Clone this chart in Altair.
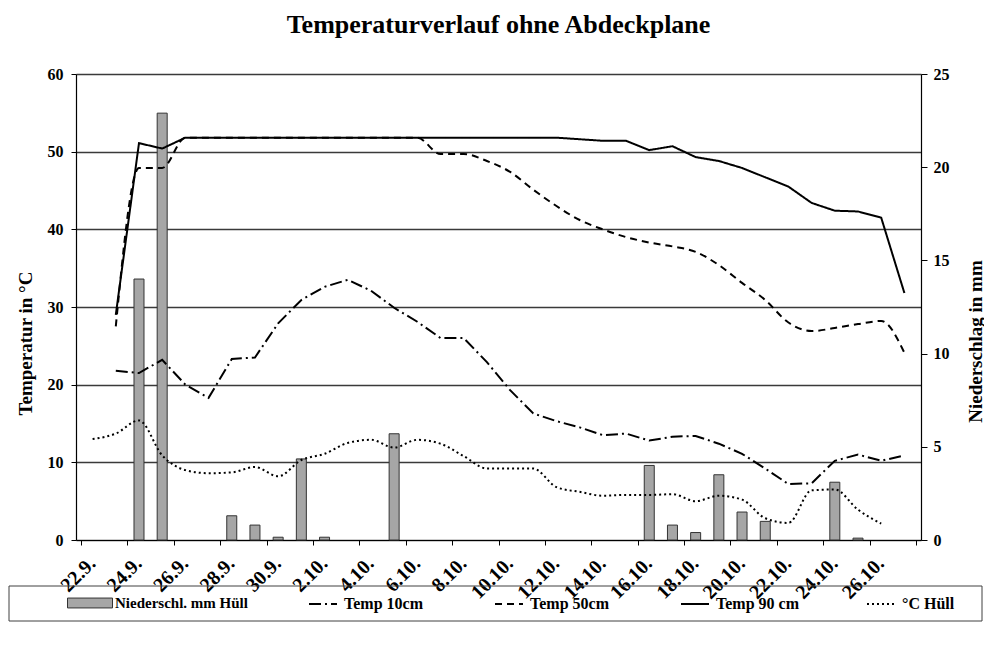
import altair as alt
import pandas as pd

# ---------------- data ----------------
dates = ["22.9.", "23.9.", "24.9.", "25.9.", "26.9.", "27.9.", "28.9.", "29.9.", "30.9.",
         "1.10.", "2.10.", "3.10.", "4.10.", "5.10.", "6.10.", "7.10.", "8.10.", "9.10.",
         "10.10.", "11.10.", "12.10.", "13.10.", "14.10.", "15.10.", "16.10.", "17.10.",
         "18.10.", "19.10.", "20.10.", "21.10.", "22.10.", "23.10.", "24.10.", "25.10.",
         "26.10.", "27.10."]

precip = [0, 0, 14.0, 22.9, 0, 0, 1.3, 0.8, 0.15, 4.35, 0.15, 0, 0, 5.7, 0, 0, 0, 0,
          0, 0, 0, 0, 0, 0, 4.0, 0.8, 0.4, 3.5, 1.5, 1.0, 0, 0, 3.1, 0.1, 0, 0]

temp10 = [None, 21.8, 21.5, 23.2, 20.0, 18.3, 23.3, 23.5, 27.9, 30.9, 32.6, 33.5, 32.1,
          29.9, 28.1, 26.0, 26.0, 22.9, 19.3, 16.3, 15.3, 14.5, 13.5, 13.7, 12.8, 13.3,
          13.4, 12.4, 11.1, 9.2, 7.2, 7.3, 10.2, 11.0, 10.2, 10.9]

temp50 = [None, 27.5, 47.9, 47.9, 51.8, 51.8, 51.8, 51.8, 51.8, 51.8, 51.8, 51.8, 51.8,
          51.8, 51.8, 49.7, 49.7, 48.8, 47.4, 45.1, 43.0, 41.2, 40.0, 39.0, 38.3, 37.8,
          37.1, 35.4, 33.1, 30.9, 28.0, 26.9, 27.3, 27.8, 28.2, 24.1]

temp90 = [None, 29.0, 51.1, 50.4, 51.8, 51.8, 51.8, 51.8, 51.8, 51.8, 51.8, 51.8, 51.8,
          51.8, 51.8, 51.8, 51.8, 51.8, 51.8, 51.8, 51.8, 51.6, 51.4, 51.4, 50.2, 50.7,
          49.3, 48.8, 47.9, 46.7, 45.5, 43.4, 42.4, 42.3, 41.5, 31.8]

huell = [13.0, 13.7, 15.4, 10.9, 9.0, 8.6, 8.7, 9.4, 8.2, 10.3, 11.1, 12.5, 12.9, 11.9,
         12.9, 12.4, 10.8, 9.2, 9.2, 9.2, 6.8, 6.2, 5.7, 5.8, 5.8, 5.9, 5.0, 5.7, 5.2,
         2.8, 2.2, 6.4, 6.5, 3.9, 2.1, None]

series_names = ["Temp 10cm", "Temp 50cm", "Temp 90 cm", "°C Hüll"]
series_values = [temp10, temp50, temp90, huell]
dash_styles = [[12, 4, 2, 4], [7, 5], [1, 0], [2, 3]]
interp = ["linear", "monotone", "linear", "monotone"]
bar_label = "Niederschl. mm Hüll"

temp_ticks = [0, 10, 20, 30, 40, 50, 60]
precip_ticks = [0, 5, 10, 15, 20, 25]

# ---------------- tables ----------------
rows = []
for name, vals in zip(series_names, series_values):
    for i, v in enumerate(vals):
        if v is not None:
            rows.append({"x": i + 0.5, "date": dates[i], "series": name, "value": v})
lines_df = pd.DataFrame(rows)

bars_df = pd.DataFrame({"x": [i + 0.5 for i in range(len(dates))], "date": dates,
                        "precip": precip, "label": bar_label})
bars_df = bars_df[bars_df["precip"] > 0]

FONT = "Liberation Serif"
n = len(dates)
tick_vals = list(range(0, n + 1, 2))
label_list = dates[::2] + [""]
label_expr = "[" + ",".join("'" + s + "'" for s in label_list) + "][round(datum.value/2)]"

x_enc = alt.X("x:Q", scale=alt.Scale(domain=[0, n], nice=False, zero=False),
              axis=alt.Axis(values=tick_vals, labelExpr=label_expr, labelAngle=315,
                            labelAlign="right", labelBaseline="middle", labelOffset=11,
                            labelPadding=15, tickSize=5, tickColor="black",
                            domainColor="black", domainWidth=1.2, grid=False, title=None,
                            labelFont=FONT, labelFontSize=20, labelFontWeight="bold",
                            labelColor="black", labelOverlap=False, labelBound=False))

bars = alt.Chart(bars_df).mark_bar(size=10, stroke="#333333", strokeWidth=1).encode(
    x=x_enc,
    y=alt.Y("precip:Q", scale=alt.Scale(domain=[0, 25], nice=False),
            axis=alt.Axis(orient="right", values=precip_ticks, grid=False, tickSize=6,
                          tickColor="black", domainColor="black", domainWidth=1.2,
                          labelPadding=6, labelFont=FONT, labelFontSize=16,
                          labelFontWeight="bold", labelColor="black",
                          title="Niederschlag in mm", titleFont=FONT, titleFontSize=19,
                          titleFontWeight="bold", titleColor="black", titleAngle=270,
                          titleX=54, titleY=267, titleAlign="center",
                          titleBaseline="middle")),
    fill=alt.Fill("label:N", scale=alt.Scale(domain=[bar_label], range=["#a6a6a6"]),
                  legend=alt.Legend(title=None, orient="none", legendX=-9, legendY=506,
                                    symbolType="M-1,-0.22H1V0.22H-1Z", symbolSize=2025,
                                    symbolStrokeColor="#333333", symbolStrokeWidth=1,
                                    symbolOpacity=1, labelFont=FONT, labelFontSize=15,
                                    labelFontWeight="bold", labelColor="black",
                                    labelOffset=2, padding=0)),
)

dash_enc = alt.StrokeDash("series:N",
                          scale=alt.Scale(domain=series_names, range=dash_styles),
                          legend=alt.Legend(title=None, orient="none", legendX=232,
                                            legendY=515, direction="horizontal",
                                            symbolType="stroke", symbolSize=784,
                                            symbolStrokeWidth=2, symbolStrokeColor="black",
                                            columnPadding=64, gridAlign="all",
                                            labelOffset=6, labelFont=FONT,
                                            labelFontSize=16, labelFontWeight="bold",
                                            labelColor="black", padding=0))

y_temp = alt.Y("value:Q", scale=alt.Scale(domain=[0, 60], nice=False),
               axis=alt.Axis(orient="left", values=temp_ticks, grid=True,
                             gridColor="#3a3a3a", gridWidth=1.3, tickSize=5,
                             tickColor="black", domainColor="black", domainWidth=1.2,
                             labelPadding=8, labelFont=FONT, labelFontSize=16,
                             labelFontWeight="bold", labelColor="black",
                             title="Temperatur in °C", titleFont=FONT, titleFontSize=19,
                             titleFontWeight="bold", titleColor="black", titleAngle=270,
                             titleX=-51, titleY=269, titleAlign="center",
                             titleBaseline="middle"))

line_layers = []
for name, ip in zip(series_names, interp):
    line_layers.append(
        alt.Chart(lines_df).transform_filter(alt.datum.series == name)
        .mark_line(color="black", strokeWidth=2, interpolate=ip)
        .encode(x=x_enc, y=y_temp, strokeDash=dash_enc)
    )
lines = alt.layer(*line_layers)

box = alt.Chart(pd.DataFrame({"k": [0]})).mark_rect(
    fill="transparent", stroke="#404040", strokeWidth=1).encode(
    x=alt.value(-67), x2=alt.value(906), y=alt.value(512), y2=alt.value(547))

chart = alt.layer(bars, lines, box).resolve_scale(y="independent").properties(
    width=845, height=466,
    autosize=alt.AutoSizeParams(type="none"),
    padding={"left": 68, "top": 66, "right": 63, "bottom": 90},
    title=alt.TitleParams("Temperaturverlauf ohne Abdeckplane", font=FONT, fontSize=26,
                          fontWeight="bold", anchor="middle", frame="group",
                          baseline="alphabetic", offset=7, color="black"),
).configure_view(strokeWidth=0).configure(background="white")

chart.save("out.html", embed_options={"renderer": "svg", "actions": False})
